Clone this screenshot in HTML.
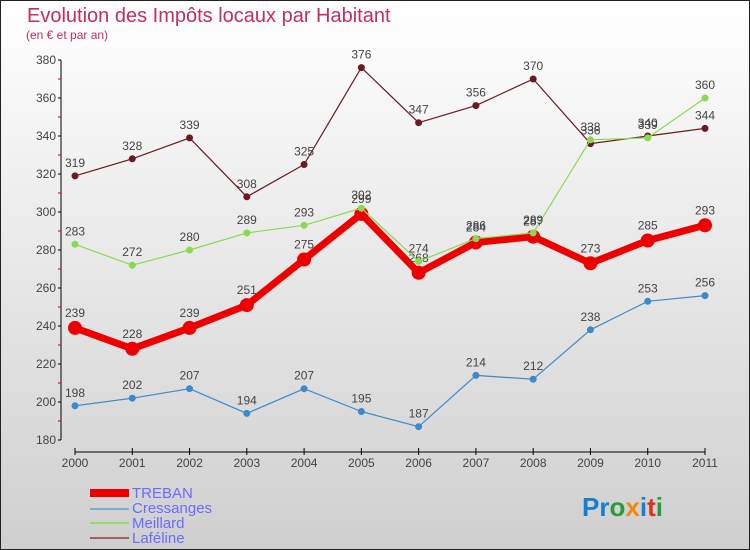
<!DOCTYPE html>
<html><head><meta charset="utf-8"><style>
body{margin:0}
#c{width:750px;height:550px;position:relative;overflow:hidden;font-family:"Liberation Sans",sans-serif}
</style></head><body>
<div id="c">
<svg id="s" width="750" height="550" xmlns="http://www.w3.org/2000/svg">
<defs><linearGradient id="bg" x1="0" y1="0" x2="0" y2="1"><stop offset="0" stop-color="#ffffff"/><stop offset="1" stop-color="#cfcfcf"/></linearGradient></defs>
<rect x="0.5" y="0.5" width="749" height="549" fill="url(#bg)" stroke="#222"/>
<text x="27" y="22" font-size="20" fill="#c0305a">Evolution des Impôts locaux par Habitant</text>
<text x="26" y="39" font-size="12" fill="#c0305a">(en € et par an)</text>
<g id="axes"></g><g id="series"></g>
<g>
<rect x="90" y="489" width="39" height="8" fill="#e00"/>
<text x="132" y="498" font-size="15" fill="#6a6aff">TREBAN</text>
<rect x="90" y="508" width="39" height="2" fill="#7aaed0"/>
<text x="132" y="513" font-size="15" fill="#6a6aff">Cressanges</text>
<rect x="90" y="522" width="39" height="2" fill="#9ad870"/>
<text x="132" y="528" font-size="15" fill="#6a6aff">Meillard</text>
<rect x="90" y="537" width="39" height="2" fill="#a06060"/>
<text x="132" y="543" font-size="15" fill="#6a6aff">Laféline</text>
</g>
<text x="582" y="516" font-size="26" font-weight="bold"><tspan fill="#1a7ed0">Pr</tspan><tspan fill="#2a9a3a">o</tspan><tspan fill="#f08a10">x</tspan><tspan fill="#1a7ed0">i</tspan><tspan fill="#e03020">t</tspan><tspan fill="#2a9a3a">i</tspan></text>
</svg></div>
<script>
const years=[2000,2001,2002,2003,2004,2005,2006,2007,2008,2009,2010,2011];
const yTicks=[180,200,220,240,260,280,300,320,340,360,380];
const treban=[239,228,239,251,275,299,268,284,287,273,285,293];
const cressanges=[198,202,207,194,207,195,187,214,212,238,253,256];
const meillard=[283,272,280,289,293,302,274,286,289,338,339,360];
const lafeline=[319,328,339,308,325,376,347,356,370,336,340,344];
const NS="http://www.w3.org/2000/svg";
const X=i=>75+i*(630/11);
const Y=v=>60+(380-v)*1.9;
function mk(p,t,a){const e=document.createElementNS(NS,t);for(const k in a)e.setAttribute(k,a[k]);p.appendChild(e);return e;}
const ax=document.getElementById('axes');
let l=mk(ax,'line',{x1:61,y1:60,x2:61,y2:440,stroke:'#000'});


yTicks.forEach(v=>{
 mk(ax,'line',{x1:58,y1:Y(v),x2:61,y2:Y(v),stroke:'#000'});
 if(v<380)mk(ax,'line',{x1:58,y1:Y(v+10),x2:61,y2:Y(v+10),stroke:'#d00'});
 const t=mk(ax,'text',{x:56,y:Y(v)+4,'font-size':12,'text-anchor':'end',fill:'#444'});t.textContent=v;
 
 
});
l=mk(ax,'line',{x1:X(0),y1:452,x2:X(11),y2:452,stroke:'#000'});


years.forEach((y,i)=>{
 mk(ax,'line',{x1:X(i),y1:448,x2:X(i),y2:455,stroke:'#000'});
 const t=mk(ax,'text',{x:X(i),y:467,'font-size':12,'text-anchor':'middle',fill:'#444'});t.textContent=y;
 
 
});
const sg=document.getElementById('series');
function draw(name,d,col,w,r){
 const g=mk(sg,'g',{});
 
 
 mk(g,'polyline',{points:d.map((v,i)=>X(i)+','+Y(v)).join(' '),fill:'none',stroke:col,'stroke-width':w,'stroke-linejoin':'round'});
 d.forEach((v,i)=>{
  const c=mk(g,'circle',{cx:X(i),cy:Y(v),r:r,fill:col});
  
  
  const t=mk(g,'text',{x:X(i),y:Y(v)-9-(r>5?2:0),'font-size':12,'text-anchor':'middle',fill:'#444'});t.textContent=v;
  
  
 });
}
draw('cressanges',cressanges,'#3a8acc',1.2,3.5);
draw('lafeline',lafeline,'#6a1a20',1.2,3.5);
draw('treban',treban,'#ee0000',7,7);
draw('meillard',meillard,'#8ada50',1.2,3.5);
</script>
</body></html>
